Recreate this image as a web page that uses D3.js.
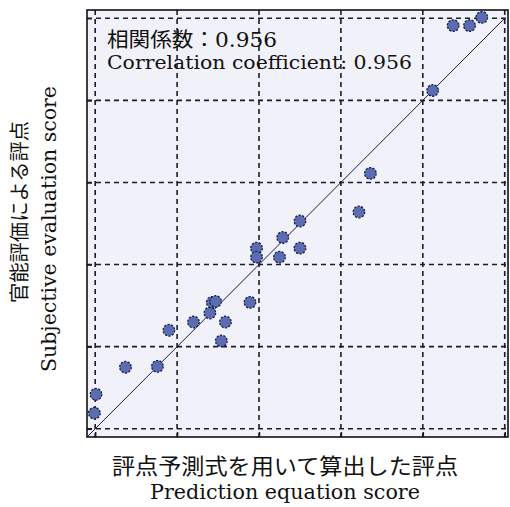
<!DOCTYPE html>
<html>
<head>
<meta charset="utf-8">
<script src="https://cdn.jsdelivr.net/npm/d3@7"></script>
<style>
  html, body { margin: 0; padding: 0; background: #ffffff; }
  svg { display: block; }
  .serif { font-family: "DejaVu Serif", "Noto Sans CJK JP", serif; fill: #111; }
</style>
</head>
<body>
<svg id="chart" width="510" height="507"></svg>
<script>
// Predicted score (x) vs. subjective evaluation score (y) per sample
const predictedScore = [-0.01, 0.01, 0.37, 0.76, 0.90, 1.20, 1.40, 1.43, 1.47, 1.59, 1.54, 1.89,
  1.97, 1.97, 2.25, 2.29, 2.50, 2.50, 3.22, 3.36, 4.12, 4.37, 4.57, 4.72];
const subjectiveScore = [0.19, 0.42, 0.75, 0.76, 1.20, 1.30, 1.41, 1.54, 1.55, 1.30, 1.07, 1.54,
  2.20, 2.09, 2.09, 2.33, 2.20, 2.53, 2.64, 3.11, 4.12, 4.91, 4.91, 5.01];
const gridTicks = [0, 1, 2, 3, 4, 5];
const xDomain = [-0.1, 5.04];
const yDomain = [-0.1, 5.1];
const correlationLabels = ["相関係数：0.956", "Correlation coefficient: 0.956"];
const xLabels = ["評点予測式を用いて算出した評点", "Prediction equation score"];
const yLabels = ["官能評価による評点", "Subjective evaluation score"];

const svg = d3.select("#chart");
const plot = { left: 87, right: 508, top: 10, bottom: 437 };

const x = d3.scaleLinear().domain(xDomain).range([plot.left, plot.right]);
const y = d3.scaleLinear().domain(yDomain).range([plot.bottom, plot.top]);

// plot background
svg.append("rect")
  .attr("x", plot.left).attr("y", plot.top)
  .attr("width", plot.right - plot.left).attr("height", plot.bottom - plot.top)
  .attr("fill", "#f1f2f9");

// dashed grid
const grid = svg.append("g").attr("stroke", "#1b1b2e").attr("stroke-width", 1.6)
  .attr("stroke-dasharray", "5,4");
grid.selectAll("line.v").data(gridTicks).join("line").attr("class", "v")
  .attr("x1", d => x(d)).attr("x2", d => x(d))
  .attr("y1", plot.top).attr("y2", plot.bottom);
grid.selectAll("line.h").data(gridTicks).join("line").attr("class", "h")
  .attr("y1", d => y(d)).attr("y2", d => y(d))
  .attr("x1", plot.left).attr("x2", plot.right);

// inward ticks via d3 axes
const xAxis = d3.axisBottom(x).tickValues(gridTicks).tickSize(-5).tickFormat("");
const yAxis = d3.axisLeft(y).tickValues(gridTicks).tickSize(-5).tickFormat("");
svg.append("g").attr("transform", `translate(0,${plot.bottom})`).call(xAxis)
  .call(g => g.select(".domain").remove())
  .selectAll("line").attr("stroke", "#1b1b2e").attr("stroke-width", 1.5);
svg.append("g").attr("transform", `translate(${plot.left},0)`).call(yAxis)
  .call(g => g.select(".domain").remove())
  .selectAll("line").attr("stroke", "#1b1b2e").attr("stroke-width", 1.5);

// y = x reference line
svg.append("line")
  .attr("x1", x(-0.1)).attr("y1", y(-0.1))
  .attr("x2", x(5)).attr("y2", y(5))
  .attr("stroke", "#1c1c48").attr("stroke-width", 1);

// points
const pts = predictedScore.map((v, i) => ({ px: v, py: subjectiveScore[i] }));
svg.append("g").selectAll("circle").data(pts).join("circle")
  .attr("cx", d => x(d.px)).attr("cy", d => y(d.py)).attr("r", 5.8)
  .attr("fill", "#5b6cb3").attr("stroke", "#17204a").attr("stroke-width", 1.3)
  .attr("stroke-dasharray", "2.2,1.4");

// frame
svg.append("rect")
  .attr("x", plot.left).attr("y", plot.top)
  .attr("width", plot.right - plot.left).attr("height", plot.bottom - plot.top)
  .attr("fill", "none").attr("stroke", "#111").attr("stroke-width", 1.6);

// helper for fitted text
function label(sel, txt, size, len) {
  return sel.append("text").attr("class", "serif").attr("font-size", size)
    .attr("textLength", len).attr("lengthAdjust", "spacingAndGlyphs").text(txt);
}

// correlation annotation
label(svg, correlationLabels[0], 20.5, 170).attr("x", 107).attr("y", 47);
label(svg, correlationLabels[1], 19, 305).attr("x", 107).attr("y", 69);

// axis titles
label(svg, xLabels[0], 22, 346).attr("x", 112).attr("y", 474);
label(svg, xLabels[1], 19.5, 270).attr("x", 150).attr("y", 499);

label(svg, yLabels[0], 20, 182).attr("transform", "translate(27,303) rotate(-90)");
label(svg, yLabels[1], 19.5, 286).attr("transform", "translate(56,372) rotate(-90)");
</script>
</body>
</html>
